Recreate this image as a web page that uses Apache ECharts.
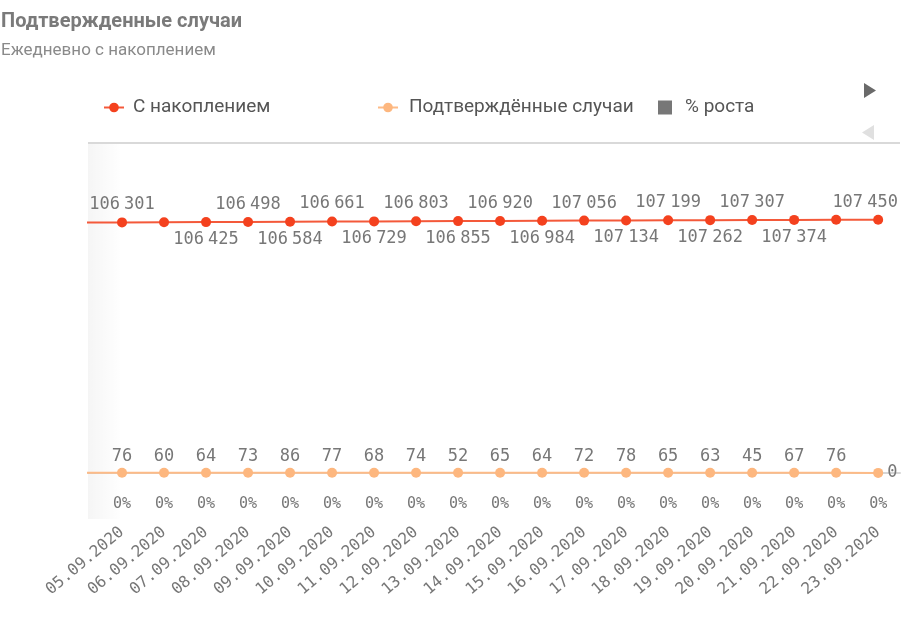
<!DOCTYPE html>
<html>
<head>
<meta charset="utf-8">
<script src="https://cdn.jsdelivr.net/npm/echarts@6/dist/echarts.min.js"></script>
<style>html,body{margin:0;padding:0;background:#fff}#c{width:914px;height:622px}</style>
</head>
<body>
<div id="c"></div>
<script>
// ---- data ----
const categories = ['04.09.2020','05.09.2020','06.09.2020','07.09.2020','08.09.2020','09.09.2020','10.09.2020','11.09.2020','12.09.2020','13.09.2020','14.09.2020','15.09.2020','16.09.2020','17.09.2020','18.09.2020','19.09.2020','20.09.2020','21.09.2020','22.09.2020','23.09.2020'];
const cumulative = [106225,106301,106361,106425,106498,106584,106661,106729,106803,106855,106920,106984,107056,107134,107199,107262,107307,107374,107450,107450];
const daily = [70,76,60,64,73,86,77,68,74,52,65,64,72,78,65,63,45,67,76,0];
const growth = [0.07,0.07,0.06,0.06,0.07,0.08,0.07,0.06,0.07,0.05,0.06,0.06,0.07,0.07,0.06,0.06,0.04,0.06,0.07,0];
const seriesNames = ['С накоплением','Подтверждённые случаи','% роста'];
// label placement for the cumulative series (style only)
const cumLabelPos = ['none','top','none','bottom','top','bottom','top','bottom','top','bottom','top','bottom','top','bottom','top','bottom','top','bottom','none','top'];

const MONO = 'DejaVu Sans Mono';
const LAST = categories.length - 1;
// number with a narrow thousands gap, as rich text
const fmtRich = v => {
  const s = String(v);
  if (s.length <= 3) return '{d|' + s + '}';
  return '{d|' + s.slice(0, s.length - 3) + '}{s| }{d|' + s.slice(-3) + '}';
};
const rich = {
  d: { fontFamily: MONO, fontSize: 17, color: '#777' },
  s: { fontFamily: 'DejaVu Sans', fontSize: 13, color: '#777' }
};

const cumData = cumulative.map((v, i) => {
  const p = cumLabelPos[i];
  const item = { value: [i, v] };
  item.label = p === 'none' ? { show: false } : { show: true, position: p };
  return item;
});
const dailyData = daily.map((v, i) => {
  const item = { value: [i, v] };
  if (i === 0) item.label = { show: false };
  if (i === LAST) item.label = { show: true, position: 'right', distance: 4 };
  return item;
});
const growthData = growth.map((v, i) => i === 0 ? { value: [i, v], label: { show: false } } : [i, v]);

const chart = echarts.init(document.getElementById('c'), null, { renderer: 'canvas' });
const option = {
  backgroundColor: '#fff',
  animation: false,
  title: {
    text: 'Подтвержденные случаи',
    subtext: 'Ежедневно с накоплением',
    left: 1, top: 12, padding: 0,
    itemGap: 10,
    textStyle: { fontFamily: 'Roboto', fontWeight: 'bold', fontSize: 20, color: '#7a7a7a' },
    subtextStyle: { fontFamily: 'Roboto', fontSize: 17, color: '#8a8a8a' }
  },
  legend: [
    { data: [seriesNames[0]], left: 103, top: 98, padding: 0, itemWidth: 20, itemHeight: 12,
      textStyle: { fontFamily: 'Roboto', fontSize: 19, color: '#555', padding: [0, 0, 0, 4] } },
    { data: [seriesNames[1]], left: 377, top: 98, padding: 0, itemWidth: 20, itemHeight: 12,
      textStyle: { fontFamily: 'Roboto', fontSize: 19, color: '#555', padding: [0, 0, 0, 6] } },
    { data: [seriesNames[2]], left: 658, top: 98, padding: 0, itemWidth: 14, itemHeight: 14, icon: 'rect',
      textStyle: { fontFamily: 'Roboto', fontSize: 19, color: '#555', padding: [0, 0, 0, 8] } }
  ],
  grid: { left: 88, right: 14, top: 143, bottom: 102 },
  xAxis: {
    type: 'value',
    min: 0.19, max: 19.52,
    splitLine: { show: false },
    axisTick: { show: false },
    axisLine: { show: true, lineStyle: { color: '#d6d6d6', width: 2 } },
    axisLabel: {
      customValues: categories.map((c, i) => i).filter(i => i >= 1),
      formatter: v => categories[Math.round(v)] || '',
      rotate: 40, margin: 10,
      fontFamily: MONO, fontSize: 16, color: '#777'
    }
  },
  yAxis: [
    { type: 'value', show: false, min: -20000, max: 140000, splitLine: { show: false } },
    { type: 'value', show: false, min: 0, max: 1000, splitLine: { show: false } }
  ],
  series: [
    {
      name: seriesNames[0], type: 'line', yAxisIndex: 0,
      data: cumData, symbol: 'circle', symbolSize: 10, clip: true,
      itemStyle: { color: '#F4411E' },
      lineStyle: { color: '#F4593A', width: 2 },
      label: { show: true, distance: 4, formatter: p => fmtRich(p.value[1]), rich: rich },
      labelLayout: p => p.dataIndex === LAST ? { dx: -13 } : {},
      z: 3
    },
    {
      name: seriesNames[1], type: 'line', yAxisIndex: 0,
      data: dailyData, symbol: 'circle', symbolSize: 10, clip: true,
      itemStyle: { color: '#FDB77F' },
      lineStyle: { color: '#FDBB87', width: 2 },
      label: { show: true, position: 'top', distance: 3, formatter: p => fmtRich(p.value[1]), rich: rich },
      z: 3
    },
    {
      name: seriesNames[2], type: 'bar', yAxisIndex: 1,
      data: growthData, barWidth: 20, clip: true,
      itemStyle: { color: '#777' },
      label: { show: true, position: 'top', distance: 8, fontFamily: MONO, fontSize: 15, color: '#777', formatter: p => Math.round(p.value[1]) + '%' },
      z: 2
    }
  ],
  graphic: [
    { type: 'line', shape: { x1: 88, y1: 143, x2: 900, y2: 143 }, style: { stroke: '#d9d9d9', lineWidth: 2 }, silent: true },
    { type: 'rect', shape: { x: 88, y: 144, width: 34, height: 375 }, silent: true, z: 1,
      style: { fill: new echarts.graphic.LinearGradient(0, 0, 1, 0, [
        { offset: 0, color: 'rgba(0,0,0,0.04)' }, { offset: 1, color: 'rgba(0,0,0,0)' }]) } },
    { type: 'polygon', shape: { points: [[864, 83], [876, 90.5], [864, 98]] }, style: { fill: '#6a6a6a' }, silent: true },
    { type: 'polygon', shape: { points: [[874, 125], [862, 132.5], [874, 140]] }, style: { fill: '#e0e0e0' }, silent: true }
  ]
};
chart.setOption(option);
</script>
</body>
</html>
